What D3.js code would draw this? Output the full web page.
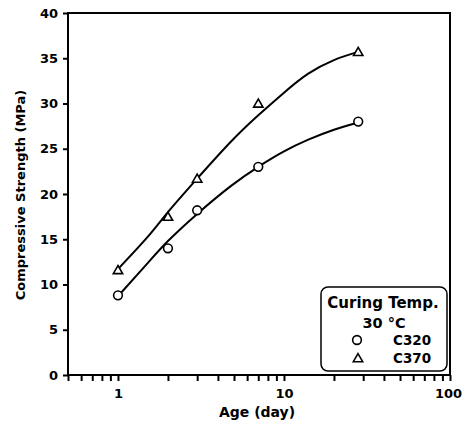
<!DOCTYPE html>
<html>
<head>
<meta charset="utf-8">
<script src="https://cdn.jsdelivr.net/npm/d3@7"></script>
<style>
body { margin: 0; background: #fff; }
text { font-family: "DejaVu Sans", "Liberation Sans", Arial, sans-serif; }
</style>
</head>
<body>
<div id="chart-area"></div>
<script>
// measured points
var ages = [1, 2, 3, 7, 28];
var c320 = [8.8, 14.0, 18.2, 23.0, 28.0];
var c370 = [11.5, 17.4, 21.6, 29.9, 35.6];

// fitted curves
var fitAges = [1, 1.5, 2, 3, 4.8, 7, 10, 14, 20, 28];
var fit320 = [8.7, 12.3, 14.8, 17.8, 20.9, 23.0, 24.7, 26.0, 27.1, 27.9];
var fit370 = [11.7, 15.2, 18.0, 21.7, 25.8, 28.7, 31.2, 33.3, 34.8, 35.7];

var xTicks = [1, 10, 100];
var yTicks = [0, 5, 10, 15, 20, 25, 30, 35, 40];

var width = 462, height = 426;
var plot = {left: 68, right: 450, top: 13, bottom: 375};

var svg = d3.select("#chart-area")
  .append("svg")
    .attr("width", width)
    .attr("height", height);

var x = d3.scaleLog()
    .domain([0.5, 100])
    .range([plot.left, plot.right]);

var y = d3.scaleLinear()
    .domain([0, 40])
    .range([plot.bottom, plot.top]);

// frame
svg.append("rect")
    .attr("x", plot.left)
    .attr("y", plot.top)
    .attr("width", plot.right - plot.left)
    .attr("height", plot.bottom - plot.top)
    .attr("fill", "none")
    .attr("stroke", "#000")
    .attr("stroke-width", 2);

// x axis, all decade ticks
var minor = [];
[0.1, 1, 10].forEach(function(d) {
  for (var k = 1; k <= 9; k++) {
    var v = +(d * k).toPrecision(3);
    if (v >= 0.5 && v <= 100) minor.push(v);
  }
});
minor.push(100);

var xAxis = d3.axisBottom(x)
    .tickValues(minor)
    .tickSize(6)
    .tickFormat(function(d) { return xTicks.indexOf(d) >= 0 ? d : ""; });

svg.append("g")
    .attr("transform", "translate(0," + plot.bottom + ")")
    .call(xAxis)
    .call(function(g) {
      g.select(".domain").remove();
      g.selectAll(".tick line").attr("stroke", "#000").attr("stroke-width", 2);
      g.selectAll("text")
        .attr("y", 14)
        .attr("dx", function(d) { return d === 100 ? -2 : 0; })
        .attr("font-family", "DejaVu Sans")
        .attr("font-size", "13px")
        .attr("font-weight", "bold")
        .attr("fill", "#000");
    });

var yAxis = d3.axisLeft(y)
    .tickValues(yTicks)
    .tickSize(5);

svg.append("g")
    .attr("transform", "translate(" + plot.left + ",0)")
    .call(yAxis)
    .call(function(g) {
      g.select(".domain").remove();
      g.selectAll(".tick line").attr("stroke", "#000").attr("stroke-width", 2);
      g.selectAll("text")
        .attr("x", -10)
        .attr("font-family", "DejaVu Sans")
        .attr("font-size", "13px")
        .attr("font-weight", "bold")
        .attr("fill", "#000");
    });

// axis labels
svg.append("text")
    .attr("x", 257)
    .attr("y", 417)
    .attr("text-anchor", "middle")
    .attr("font-size", "14px")
    .attr("font-weight", "bold")
    .text("Age (day)");

svg.append("text")
    .attr("transform", "translate(25,195) rotate(-90)")
    .attr("text-anchor", "middle")
    .attr("font-size", "13px")
    .attr("font-weight", "bold")
    .text("Compressive Strength (MPa)");

// fitted curves
var line = d3.line()
    .x(function(d) { return x(d[0]); })
    .y(function(d) { return y(d[1]); })
    .curve(d3.curveNatural);

[fit320, fit370].forEach(function(f) {
  svg.append("path")
      .datum(fitAges.map(function(a, i) { return [a, f[i]]; }))
      .attr("d", line)
      .attr("fill", "none")
      .attr("stroke", "#000")
      .attr("stroke-width", 2);
});

// markers
var circle = d3.symbol().type(d3.symbolCircle).size(60);
var tri = d3.symbol().type(d3.symbolTriangle).size(38);

svg.selectAll(".c320")
    .data(ages)
  .enter().append("path")
    .attr("class", "c320")
    .attr("d", circle)
    .attr("transform", function(d, i) { return "translate(" + x(d) + "," + y(c320[i]) + ")"; })
    .attr("fill", "#fff")
    .attr("stroke", "#000")
    .attr("stroke-width", 1.6);

svg.selectAll(".c370")
    .data(ages)
  .enter().append("path")
    .attr("class", "c370")
    .attr("d", tri)
    .attr("transform", function(d, i) { return "translate(" + x(d) + "," + y(c370[i]) + ")"; })
    .attr("fill", "#fff")
    .attr("stroke", "#000")
    .attr("stroke-width", 1.6);

// legend
var lg = svg.append("g");
lg.append("rect")
    .attr("x", 321)
    .attr("y", 287)
    .attr("width", 126)
    .attr("height", 84)
    .attr("rx", 7)
    .attr("fill", "#fff")
    .attr("stroke", "#000")
    .attr("stroke-width", 1.5);

lg.append("text")
    .attr("x", 383)
    .attr("y", 308)
    .attr("text-anchor", "middle")
    .attr("font-size", "15px")
    .attr("font-weight", "bold")
    .text("Curing Temp.");

lg.append("text")
    .attr("x", 384)
    .attr("y", 328)
    .attr("text-anchor", "middle")
    .attr("font-size", "14.5px")
    .attr("font-weight", "bold")
    .text("30 \u00B0C");

lg.append("path")
    .attr("d", circle)
    .attr("transform", "translate(357,340)")
    .attr("fill", "#fff")
    .attr("stroke", "#000")
    .attr("stroke-width", 1.6);

lg.append("path")
    .attr("d", tri)
    .attr("transform", "translate(358,359)")
    .attr("fill", "#fff")
    .attr("stroke", "#000")
    .attr("stroke-width", 1.6);

lg.append("text")
    .attr("x", 393)
    .attr("y", 345)
    .attr("font-size", "13.5px")
    .attr("font-weight", "bold")
    .text("C320");

lg.append("text")
    .attr("x", 393)
    .attr("y", 363)
    .attr("font-size", "13.5px")
    .attr("font-weight", "bold")
    .text("C370");
</script>
</body>
</html>
